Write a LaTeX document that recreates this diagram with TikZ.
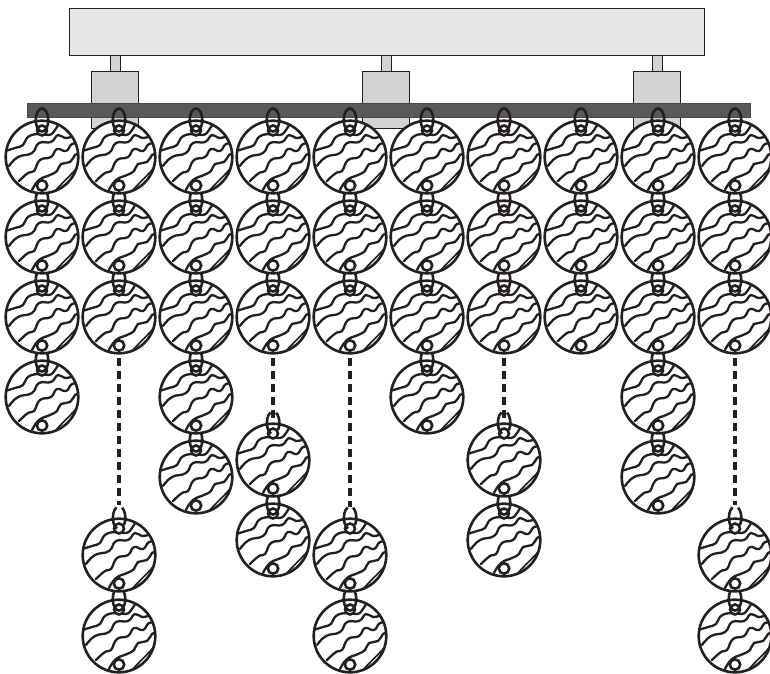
\documentclass[tikz,border=0pt]{standalone}
\definecolor{topgrey}{HTML}{E6E7E8}
\definecolor{blockgrey}{HTML}{D1D3D4}
\definecolor{bargrey}{HTML}{58595B}
\definecolor{inkblack}{HTML}{231F20}
\tikzset{
  ink/.style={draw=inkblack,line width=2.6pt},
  wave/.style={draw=inkblack,line width=2.3pt,line cap=round,line join=round},
  barA/.style={draw=inkblack,line width=0.9pt,fill=topgrey},
  barB/.style={draw=inkblack,line width=0.9pt,fill=blockgrey},
  barC/.style={draw=bargrey!80!black,line width=0.7pt,fill=bargrey},
  chain/.style={draw=inkblack,line width=4pt,dash pattern=on 8pt off 5pt}
}
% #1 x, #2 y, #3 kind: s solid link, b broken link
\newcommand{\OneDisc}[3]{%
  \begin{scope}[shift={(#1,#2)}]
    \fill[white] (0,0) circle (36);
    \begin{scope}
      \clip (0,0) circle (36);
      \draw[wave] plot[smooth,tension=.8] coordinates {(-37,-6)(-27,-9)(-19,-12)(-14,-20)(-4,-23)(7,-22)(13,-27)(18,-36)};
      \draw[wave] plot[smooth,tension=.8] coordinates {(-33,9)(-24,0)(-10,-4)(-3,-14)(9,-15)(16,-22)(23,-19)(32,-21)};
      \draw[wave] plot[smooth,tension=.8] coordinates {(-23,24)(-14,16)(-8,14)(-2,3)(9,0)(15,-8)(24,-6)(30,-13)(38,-13)};
      \draw[wave] plot[smooth,tension=.8] coordinates {(-10,33)(-3,23)(8,18)(15,14)(19,7)(28,5)(33,-2)(38,-4)};
      \draw[wave,line width=1.7pt] (14,33) .. controls (20,26) and (27,20) .. (34,12);
    \end{scope}
    \draw[ink] (0,0) circle (36.3);
    \draw[ink,fill=white] (0,-26.5) circle (5);
    \draw[ink,fill=white] (0,28.5) circle (5.2);
    \if s#3
      \draw[ink] (0,-37) ellipse (6.3 and 11.5);
    \else
      \draw[ink] (3,-47.3) arc (-62:40:6.3 and 11.5);
      \draw[ink] (-2.5,-47.6) arc (-115:-250:6.3 and 11.5);
    \fi
  \end{scope}}
\begin{document}
\begin{tikzpicture}[x=1pt,y=-1pt]
\useasboundingbox (0,0) rectangle (770,673);
\begin{scope}
\clip (0,0) rectangle (770,673);
\fill[white] (0,0) rectangle (770,673);
\draw[barA] (69,8) rectangle (704,55);
\foreach \c in {115,386,657}{
  \draw[barB] (\c-5,55) rectangle (\c+5,71);
  \draw[barB] (\c-23.5,71) rectangle (\c+23.5,128);
}
\draw[barC] (27,103) rectangle (750,117);
% dashed hangers
\foreach \x/\a/\b in {119/345/505,273/345/421,350/345/507,504/345/421,735/345/505}{
  \coordinate (hangA\x) at (\x,\a);
  \coordinate (hangB\x) at (\x,\b);
  \draw[chain] (hangA\x) -- (hangB\x);
}
% discs, lowest first so each covers the top of the link beneath it
\foreach \x/\y/\k in {
  119/636/s,119/555/b,
  42/397/s,
  196/477/s,196/397/s,
  273/540/s,273/460/b,
  350/636/s,350/555/b,
  427/397/s,
  504/540/s,504/460/b,
  658/477/s,658/397/s,
  735/636/s,735/555/b,
  42/317/s,119/317/s,196/317/s,273/317/s,350/317/s,427/317/s,504/317/s,581/317/s,658/317/s,735/317/s,
  42/237/s,119/237/s,196/237/s,273/237/s,350/237/s,427/237/s,504/237/s,581/237/s,658/237/s,735/237/s,
  42/157/s,119/157/s,196/157/s,273/157/s,350/157/s,427/157/s,504/157/s,581/157/s,658/157/s,735/157/s}{
  \OneDisc{\x}{\y}{\k}
}
\end{scope}
\end{tikzpicture}
\end{document}
